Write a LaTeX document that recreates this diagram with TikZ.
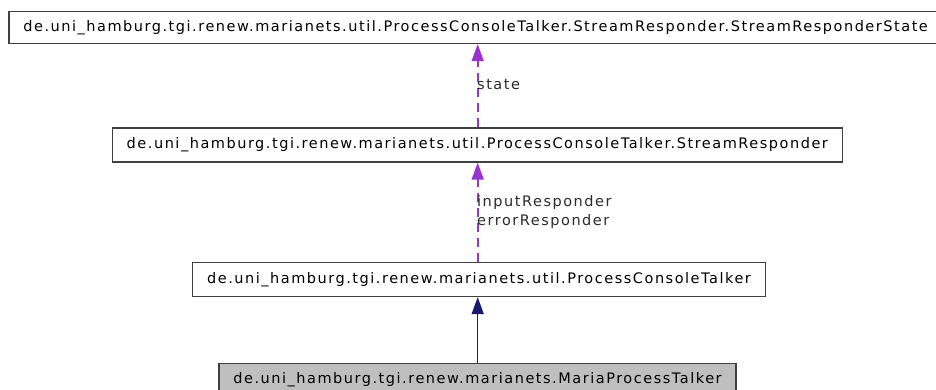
\documentclass[tikz,border=0pt]{standalone}
\usepackage{fontspec}
\setmainfont{DejaVu Sans}[LetterSpace=10.5]
\usetikzlibrary{arrows.meta}
\definecolor{boxline}{HTML}{404040}
\definecolor{usecolor}{HTML}{9A32CD}
\definecolor{inhcolor}{HTML}{191970}
\definecolor{labeltext}{HTML}{2A2A2A}
\definecolor{focusfill}{HTML}{BFBFBF}
\begin{document}
\begin{tikzpicture}[x=1pt,y=-1pt,
  classbox/.style={draw=boxline, line width=1.3pt, fill=white, inner xsep=14.5pt,
    inner ysep=0pt, minimum height=32pt, text=black,
    font=\fontsize{14.5}{19}\selectfont},
  focusbox/.style={classbox, fill=focusfill},
  useedge/.style={draw=usecolor, line width=1.6pt, dash pattern=on 9pt off 6pt,
    -{Triangle[width=12pt,length=17pt,fill=usecolor]}},
  inhedge/.style={draw=inhcolor, line width=1.5pt,
    -{Triangle[width=12pt,length=17pt,fill=inhcolor]}},
  edgelabel/.style={anchor=west, inner sep=0pt, text=labeltext, align=left,
    font=\fontsize{14.5}{19}\selectfont}]
  \useasboundingbox (0,0) rectangle (936,390);

  % class nodes
  \node[classbox] (state) at (475.6,27.5)
    {de.uni\_hamburg.tgi.renew.marianets.util.ProcessConsoleTalker.StreamResponder.StreamResponderState};
  \node[classbox, minimum height=34pt] (responder) at (477.3,145)
    {de.uni\_hamburg.tgi.renew.marianets.util.ProcessConsoleTalker.StreamResponder};
  \node[classbox, minimum height=34pt] (talker) at (479,279.5)
    {de.uni\_hamburg.tgi.renew.marianets.util.ProcessConsoleTalker};
  \node[focusbox] (maria) at (477.5,379.5)
    {de.uni\_hamburg.tgi.renew.marianets.MariaProcessTalker};

  % vertical line shared by all connectors
  \coordinate (axis) at (477.7,0);

  % usage relations
  \draw[useedge] (responder.north -| axis) -- (state.south -| axis);
  \draw[useedge] (talker.north -| axis) -- (responder.south -| axis);

  % inheritance
  \draw[inhedge] (maria.north -| axis) -- (talker.south -| axis);

  % relation labels
  \node[edgelabel] (lstate) at (477,85) {state};
  \node[edgelabel] (lresp) at (477,212) {inputResponder\\errorResponder};
\end{tikzpicture}
\end{document}
